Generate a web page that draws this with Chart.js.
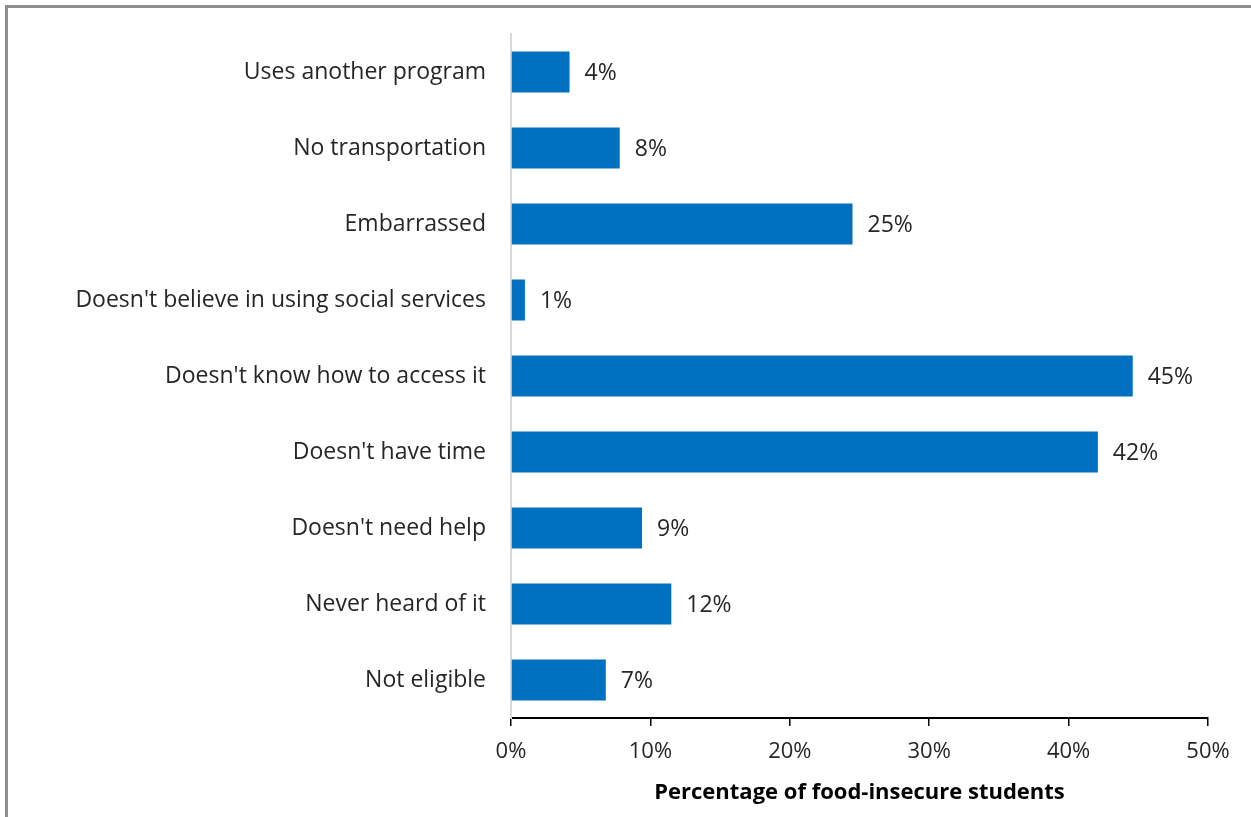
<!DOCTYPE html>
<html><head><meta charset="utf-8">
<script src="https://cdn.jsdelivr.net/npm/chart.js@4"></script>
<style>
html,body{margin:0;padding:0;background:#fff;width:1251px;height:817px;overflow:hidden;}
#c{position:absolute;left:0;top:0;}
#frame{position:absolute;left:5px;top:5px;width:1260px;height:830px;border-top:3px solid #8f8f8f;border-left:3px solid #8f8f8f;pointer-events:none;box-sizing:border-box;}
</style></head>
<body>
<canvas id="c" width="1251" height="817"></canvas>
<div id="frame"></div>
<script>
const categories = ["Uses another program","No transportation","Embarrassed","Doesn't believe in using social services","Doesn't know how to access it","Doesn't have time","Doesn't need help","Never heard of it","Not eligible"];
const values = [4.2, 7.8, 24.5, 1.0, 44.6, 42.1, 9.4, 11.5, 6.8];
const labels = ["4%","8%","25%","1%","45%","42%","9%","12%","7%"];
const xTickValues = [0,10,20,30,40,50];

const FONT = "'Open Sans', 'Noto Sans', sans-serif";
const TXT = '#262626';

const dataLabelPlugin = {
  id: 'dataLabels',
  afterDatasetsDraw(chart){
    const ctx = chart.ctx;
    const meta = chart.getDatasetMeta(0);
    ctx.save();
    ctx.font = "23px " + FONT;
    ctx.fillStyle = TXT;
    ctx.textAlign = 'left';
    ctx.textBaseline = 'middle';
    meta.data.forEach((bar,i)=>{
      ctx.fillText(labels[i], bar.x + 15, bar.y + 1);
    });
    ctx.restore();
  }
};

new Chart(document.getElementById('c'), {
  type: 'bar',
  data: {
    labels: categories,
    datasets: [{
      data: values,
      backgroundColor: '#0070C0',
      borderWidth: 0,
      categoryPercentage: 1,
      barPercentage: 0.54
    }]
  },
  options: {
    indexAxis: 'y',
    responsive: false,
    animation: false,
    devicePixelRatio: 1,
    layout: { padding: { left: 0, right: 43, top: 34, bottom: 0 } },
    plugins: { legend: { display: false }, tooltip: { enabled: false } },
    scales: {
      x: {
        min: 0, max: 50,
        afterBuildTicks(scale){ scale.ticks = xTickValues.map(v=>({value:v})); },
        afterFit(scale){ scale.height = 99; },
        grid: { display: true, drawOnChartArea: false, drawTicks: true, tickLength: 8, color: '#000', lineWidth: 1.5 },
        border: { display: true, color: '#000', width: 2 },
        ticks: { color: TXT, font: { family: FONT, size: 22 }, padding: 13, callback: v => v + '%' },
        title: { display: true, text: 'Percentage of food-insecure students', color: '#000', font: { family: FONT, size: 22, weight: 'bold' }, padding: { top: 0, bottom: 11 } }
      },
      y: {
        afterFit(scale){ scale.width = 511; },
        grid: { display: true, drawOnChartArea: false, drawTicks: true, tickLength: 23, color: 'rgba(0,0,0,0)' },
        border: { display: true, color: '#d9d9d9', width: 2 },
        ticks: { color: TXT, font: { family: FONT, size: 23 }, padding: 2 }
      }
    }
  },
  plugins: [dataLabelPlugin]
});
</script>
</body></html>
